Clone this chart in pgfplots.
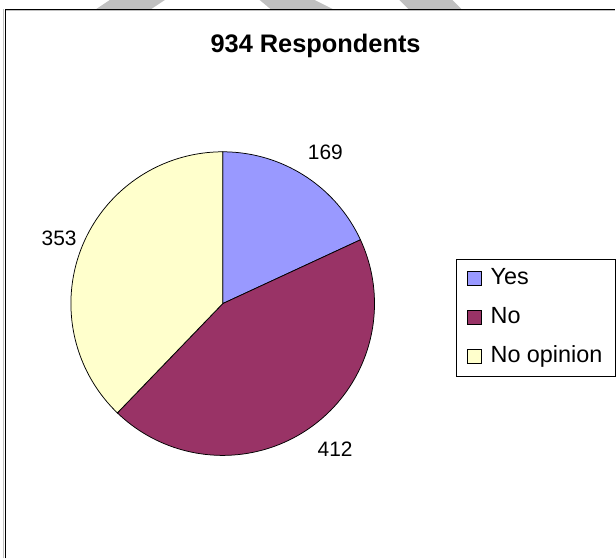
\documentclass[border=0pt]{standalone}
\usepackage{pgfplots}
\pgfplotsset{compat=1.18}
\usepackage{fontspec}
\setmainfont{Liberation Sans}
\definecolor{cyes}{HTML}{9999FF}
\definecolor{cno}{HTML}{993366}
\definecolor{cnoop}{HTML}{FFFFCC}
\definecolor{wm}{HTML}{C0C0C0}
% data (respondents)
\def\vYes{169}
\def\vNo{412}
\def\vNoop{353}
\pgfmathsetmacro\tot{\vYes+\vNo+\vNoop}
\pgfmathsetmacro\aA{90}
\pgfmathsetmacro\aB{90-360*(\vYes/\tot)}
\pgfmathsetmacro\aC{\aB-360*(\vNo/\tot)}
\pgfmathsetmacro\aD{\aC-360*(\vNoop/\tot)}
\begin{document}
\begin{tikzpicture}
\begin{axis}[
  width=616bp, height=559bp, scale only axis,
  xmin=0, xmax=616, ymin=0, ymax=559,
  hide axis, clip=false,
  legend image code/.code={\draw[#1, draw=black, line width=0.75bp] (0bp,-7bp) rectangle (14bp,7bp);},
  legend cell align=left,
  legend style={at={(axis cs:457,300)}, anchor=north west, draw=black, line width=1bp, fill=white,
    font=\fontsize{23.5}{27}\selectfont, inner xsep=10bp, inner ysep=9bp, row sep=18bp, column sep=8bp,
    nodes={inner sep=1bp, text height=15bp, text depth=4bp}},
]
% background and frame
\fill[white] (axis cs:0,0) rectangle (axis cs:616,559);
\fill[wm] (axis cs:260,559) -- (axis cs:315,559) -- (axis cs:335,549) -- (axis cs:272,549) -- cycle;
\fill[wm] (axis cs:400,559) -- (axis cs:453,559) -- (axis cs:463,549) -- (axis cs:410,549) -- cycle;
\fill[wm] (axis cs:110,559) -- (axis cs:165,559) -- (axis cs:150,549) -- (axis cs:95,549) -- cycle;
\draw[wm, line width=1bp] (axis cs:3.8,0) -- (axis cs:3.8,550);
\draw[wm, line width=1bp] (axis cs:5,548) -- (axis cs:616,548);
\draw[black, line width=1.6bp] (axis cs:5.5,0) -- (axis cs:5.5,549.5) -- (axis cs:616,549.5);
% pie slices
\addplot[fill=cyes, draw=black, line width=0.75bp, domain=\aB:\aA, samples=60, variable=\t]
  ({223+152*cos(\t)},{255+152*sin(\t)}) -- (axis cs:223,255) -- cycle;
\addlegendentry{\makebox[114bp][l]{Yes}}
\addplot[fill=cno, draw=black, line width=0.75bp, domain=\aC:\aB, samples=90, variable=\t]
  ({223+152*cos(\t)},{255+152*sin(\t)}) -- (axis cs:223,255) -- cycle;
\addlegendentry{\makebox[114bp][l]{No}}
\addplot[fill=cnoop, draw=black, line width=0.75bp, domain=\aD:\aC, samples=90, variable=\t]
  ({223+152*cos(\t)},{255+152*sin(\t)}) -- (axis cs:223,255) -- cycle;
\addlegendentry{\makebox[114bp][l]{No opinion}}
% title and labels
\node[anchor=base, font=\bfseries\fontsize{25.5}{29}\selectfont] at (axis cs:316,506.3) {934 Respondents};
\node[anchor=base, font=\fontsize{21}{25}\selectfont] at (axis cs:325.8,399.7) {169};
\node[anchor=base, font=\fontsize{21}{25}\selectfont] at (axis cs:335.5,102) {412};
\node[anchor=base, font=\fontsize{21}{25}\selectfont] at (axis cs:59.2,313) {353};
\end{axis}
\end{tikzpicture}
\end{document}
